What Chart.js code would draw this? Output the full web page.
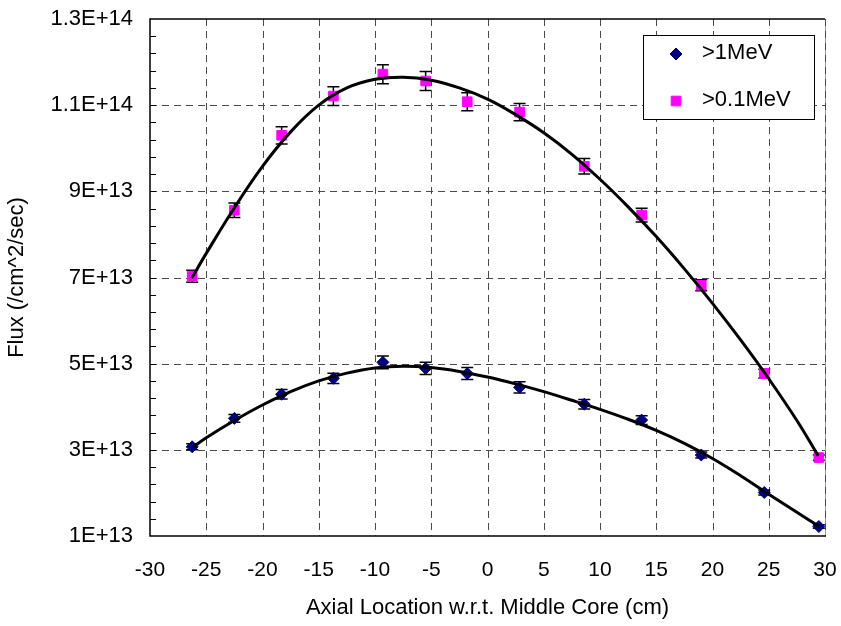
<!DOCTYPE html>
<html>
<head>
<meta charset="utf-8">
<script src="https://cdn.jsdelivr.net/npm/chart.js@4.4.1/dist/chart.umd.min.js"></script>
<style>
html,body{margin:0;padding:0;background:#ffffff;}
#wrap{width:841px;height:626px;position:relative;}
</style>
</head>
<body>
<div id="wrap"><canvas id="c" width="841" height="626"></canvas></div>
<script>
// ---- data ----
const seriesNames = ['>1MeV', '>0.1MeV'];

// measured points (axial location, cm)
const xPoints = [-26.25, -22.5, -18.3, -13.7, -9.3, -5.5, -1.8, 2.85, 8.6, 13.7, 19.0, 24.6, 29.45];
// >1MeV flux (/cm^2/sec)
const flux1MeV = [3.07e13, 3.73e13, 4.29e13, 4.66e13, 5.03e13, 4.89e13, 4.77e13, 4.45e13, 4.06e13, 3.69e13, 2.88e13, 2.01e13, 1.22e13];
const err1MeV  = [0.07e13, 0.09e13, 0.11e13, 0.12e13, 0.15e13, 0.14e13, 0.14e13, 0.13e13, 0.11e13, 0.10e13, 0.07e13, 0.06e13, 0.04e13];
// >0.1MeV flux (/cm^2/sec)
const flux01MeV = [7.03e13, 8.56e13, 10.3e13, 11.21e13, 11.72e13, 11.56e13, 11.08e13, 10.84e13, 9.58e13, 8.45e13, 6.82e13, 4.77e13, 2.82e13];
const err01MeV  = [0.14e13, 0.17e13, 0.20e13, 0.22e13, 0.22e13, 0.22e13, 0.21e13, 0.20e13, 0.18e13, 0.16e13, 0.13e13, 0.10e13, 0.06e13];

// fitted trend curves
const fit1X = [-26.2, -25, -22.5, -20, -17.5, -15, -12.5, -10, -7.5, -5, -2.5, 0, 2.5, 5, 7.5, 10, 12.5, 15, 17.5, 20, 22.5, 25, 27.5, 29.5];
const fit1Y = [3.06e13, 3.28e13, 3.68e13, 4.04e13, 4.35e13, 4.60e13, 4.78e13, 4.90e13, 4.94e13, 4.91e13, 4.82e13, 4.69e13, 4.53e13, 4.35e13, 4.15e13, 3.94e13, 3.71e13, 3.45e13, 3.15e13, 2.80e13, 2.40e13, 1.97e13, 1.55e13, 1.22e13];
const fit01X = [-26.3, -25, -22.5, -20, -17.5, -15, -12.5, -10, -7.5, -5, -2.5, 0, 2.5, 5, 7.5, 10, 12.5, 15, 17.5, 20, 22.5, 25, 27.5, 29.4];
const fit01Y = [6.98e13, 7.56e13, 8.62e13, 9.58e13, 10.38e13, 11.0e13, 11.40e13, 11.60e13, 11.65e13, 11.58e13, 11.40e13, 11.14e13, 10.78e13, 10.36e13, 9.86e13, 9.28e13, 8.64e13, 7.95e13, 7.20e13, 6.40e13, 5.55e13, 4.65e13, 3.68e13, 2.86e13];

// axes
const xTickValues = [-30, -25, -20, -15, -10, -5, 0, 5, 10, 15, 20, 25, 30];
const yTickValues = [1e13, 3e13, 5e13, 7e13, 9e13, 1.1e14, 1.3e14];
const yTickLabels = ['1E+13', '3E+13', '5E+13', '7E+13', '9E+13', '1.1E+14', '1.3E+14'];
const yMinorStep = 4e12;
const xTitle = 'Axial Location w.r.t. Middle Core (cm)';
const yTitle = 'Flux (/cm^2/sec)';

// ---- chart ----
const FONT = '"Liberation Sans", Arial, sans-serif';
const pts = (xs, ys) => xs.map((x, i) => ({x: x, y: ys[i]}));

const framePlugin = {
  id: 'frame',
  beforeDatasetsDraw(chart) {
    const {ctx, chartArea: a, scales: {x, y}} = chart;
    ctx.save();
    // dashed grid
    ctx.lineWidth = 1;
    ctx.strokeStyle = '#4a4a4a';
    ctx.setLineDash([7, 5]);
    yTickValues.forEach((v, i) => {
      if (i === 0 || i === yTickValues.length - 1) return;
      const py = Math.round(y.getPixelForValue(v)) + 0.5;
      ctx.beginPath(); ctx.moveTo(a.left, py); ctx.lineTo(a.right, py); ctx.stroke();
    });
    xTickValues.forEach((v, i) => {
      if (i === 0) return;
      const px = Math.round(x.getPixelForValue(v)) + 0.5;
      if (i === xTickValues.length - 1) {
        ctx.save(); ctx.setLineDash([]); ctx.strokeStyle = '#9a9a9a';
        ctx.beginPath(); ctx.moveTo(px, a.top); ctx.lineTo(px, a.bottom); ctx.stroke();
        ctx.restore();
      }
      ctx.beginPath(); ctx.moveTo(px, a.top); ctx.lineTo(px, a.bottom); ctx.stroke();
    });
    ctx.setLineDash([]);
    // solid borders: top, left, bottom
    ctx.strokeStyle = '#000';
    ctx.lineWidth = 1.5;
    const t = y.getPixelForValue(yTickValues[yTickValues.length - 1]);
    const b = y.getPixelForValue(yTickValues[0]);
    const l = x.getPixelForValue(xTickValues[0]);
    const r = x.getPixelForValue(xTickValues[xTickValues.length - 1]);
    ctx.beginPath();
    ctx.moveTo(r, t); ctx.lineTo(l, t); ctx.lineTo(l, b); ctx.lineTo(r + 1, b);
    ctx.stroke();
    // y minor ticks (inside)
    ctx.lineWidth = 1;
    const n = Math.round((yTickValues[yTickValues.length - 1] - yTickValues[0]) / yMinorStep);
    for (let k = 1; k < n; k++) {
      const py = Math.round(y.getPixelForValue(yTickValues[0] + k * yMinorStep)) + 0.5;
      ctx.beginPath(); ctx.moveTo(l, py); ctx.lineTo(l + 6, py); ctx.stroke();
    }
    ctx.restore();
  },
  beforeDatasetDraw(chart, args) {
    const ds = chart.data.datasets[args.index];
    if (!ds.errors) return;
    const {ctx, scales: {y}} = chart;
    ctx.save();
    ctx.strokeStyle = '#000';
    ctx.lineWidth = 1.5;
    args.meta.data.forEach((el, i) => {
      const v = ds.data[i].y, e = ds.errors[i];
      const y1 = y.getPixelForValue(v + e), y2 = y.getPixelForValue(v - e);
      const px = el.x;
      ctx.beginPath();
      ctx.moveTo(px, y1); ctx.lineTo(px, y2);
      ctx.moveTo(px - 6, y1); ctx.lineTo(px + 6, y1);
      ctx.moveTo(px - 6, y2); ctx.lineTo(px + 6, y2);
      ctx.stroke();
    });
    ctx.restore();
  },
  afterDraw(chart) {
    const {ctx} = chart;
    ctx.save();
    const bx = 643.5, by = 35.5, bw = 171, bh = 84;
    ctx.fillStyle = '#fff';
    ctx.fillRect(bx, by, bw, bh);
    ctx.strokeStyle = '#000';
    ctx.lineWidth = 1;
    ctx.strokeRect(bx, by, bw, bh);
    const rows = [54, 101];
    [chart.data.datasets[0], chart.data.datasets[1]].forEach((ds, i) => {
      ctx.fillStyle = ds.backgroundColor;
      ctx.strokeStyle = ds.borderColor;
      Chart.helpers.drawPoint(ctx, {pointStyle: ds.pointStyle, radius: ds.pointRadius, borderWidth: 1, rotation: 0}, 676, rows[i]);
      ctx.fillStyle = '#000';
      ctx.font = '22px ' + FONT;
      ctx.textBaseline = 'middle';
      ctx.textAlign = 'left';
      ctx.fillText(seriesNames[i], 702, rows[i] - 1);
    });
    ctx.restore();
  }
};

new Chart(document.getElementById('c'), {
  type: 'scatter',
  data: {
    datasets: [
      {
        label: seriesNames[0], data: pts(xPoints, flux1MeV), errors: err1MeV,
        pointStyle: 'rectRot', pointRadius: 6, backgroundColor: '#000080', borderColor: '#000080',
        borderWidth: 1, order: 2
      },
      {
        label: seriesNames[1], data: pts(xPoints, flux01MeV), errors: err01MeV,
        pointStyle: 'rect', pointRadius: 6.8, backgroundColor: '#FF00FF', borderColor: '#FF00FF',
        borderWidth: 1, order: 2
      },
      {
        label: 'fit1', data: pts(fit1X, fit1Y), showLine: true, pointRadius: 0,
        borderColor: '#000', borderWidth: 3, tension: 0.4, order: 0
      },
      {
        label: 'fit01', data: pts(fit01X, fit01Y), showLine: true, pointRadius: 0,
        borderColor: '#000', borderWidth: 3, tension: 0.4, order: 0
      }
    ]
  },
  options: {
    responsive: false,
    animation: false,
    devicePixelRatio: 1,
    layout: {padding: {left: 0, top: 19, right: 16, bottom: 0}},
    plugins: {legend: {display: false}, tooltip: {enabled: false}},
    scales: {
      x: {
        type: 'linear', min: xTickValues[0], max: xTickValues[xTickValues.length - 1],
        afterBuildTicks: s => { s.ticks = xTickValues.map(v => ({value: v})); },
        afterFit: s => { s.height = 90; s.paddingLeft = 0; s.paddingRight = 0; },
        grid: {display: false, drawTicks: false},
        border: {display: false},
        ticks: {padding: 22, color: '#000', font: {family: FONT, size: 21}, maxRotation: 0, autoSkip: false,
                callback: v => String(v)},
        title: {display: true, text: xTitle, color: '#000', font: {family: FONT, size: 22}, padding: {top: 0, bottom: 5}}
      },
      y: {
        type: 'linear', min: yTickValues[0], max: yTickValues[yTickValues.length - 1],
        afterBuildTicks: s => { s.ticks = yTickValues.map(v => ({value: v})); },
        afterFit: s => { s.width = 150; s.paddingTop = 0; s.paddingBottom = 0; },
        grid: {display: false, drawTicks: false},
        border: {display: false},
        ticks: {padding: 17, color: '#000', font: {family: FONT, size: 22}, autoSkip: false,
                callback: (v, i) => yTickLabels[i]},
        title: {display: true, text: yTitle, color: '#000', font: {family: FONT, size: 22}, padding: {top: 4, bottom: 0}}
      }
    }
  },
  plugins: [framePlugin]
});
</script>
</body>
</html>
